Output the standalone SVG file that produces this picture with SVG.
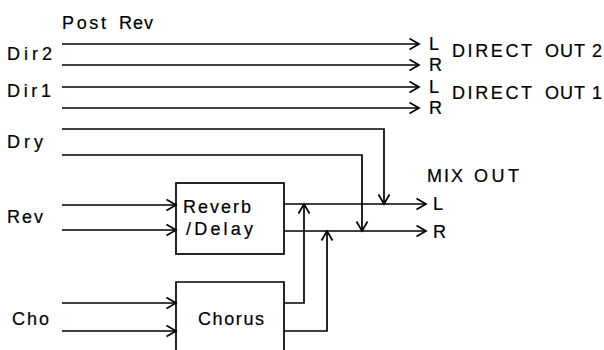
<svg xmlns="http://www.w3.org/2000/svg" width="604" height="350" viewBox="0 0 604 350">
<style>
text{font-family:"Liberation Sans",Arial,sans-serif;font-size:18px;fill:#000;stroke:#000;stroke-width:0.2}
.w{fill:none;stroke:#000;stroke-width:1.7}
.a{marker-end:url(#chev)}
</style>
<defs>
<marker id="chev" markerUnits="userSpaceOnUse" markerWidth="12" markerHeight="14" refX="10.5" refY="6" orient="auto" viewBox="0 0 12 12">
<path d="M1,0.5 L10.5,6 L1,11.5" fill="none" stroke="#000" stroke-width="1.7"/>
</marker>
</defs>
<rect width="604" height="350" fill="#fff"/>

<g id="label-postrev">
<text x="62" y="29" textLength="44" lengthAdjust="spacing">Post</text>
<text x="119" y="29" textLength="34" lengthAdjust="spacing">Rev</text>
</g>
<g id="in-dir2"><text x="7" y="60" textLength="45" lengthAdjust="spacing">Dir2</text></g>
<g id="in-dir1"><text x="7" y="97" textLength="44" lengthAdjust="spacing">Dir1</text></g>
<g id="in-dry"><text x="7" y="148" textLength="36" lengthAdjust="spacing">Dry</text></g>
<g id="in-rev"><text x="7" y="223" textLength="36" lengthAdjust="spacing">Rev</text></g>
<g id="in-cho"><text x="12" y="325" textLength="37" lengthAdjust="spacing">Cho</text></g>

<g id="reverb-delay">
<rect class="w" x="176" y="183" width="108" height="71"/>
<text x="183" y="213" textLength="68" lengthAdjust="spacing">Reverb</text>
<text x="186" y="235" textLength="67" lengthAdjust="spacing">/Delay</text>
</g>
<g id="chorus">
<path class="w" d="M176,360 V282 H284 V360"/>
<text x="198" y="325" textLength="66" lengthAdjust="spacing">Chorus</text>
</g>

<g id="direct-out-2">
<text x="429" y="50">L</text>
<text x="429" y="71">R</text>
<text x="452" y="57" textLength="80" lengthAdjust="spacing">DIRECT</text>
<text x="545" y="57" textLength="40" lengthAdjust="spacing">OUT</text>
<text x="592" y="57">2</text>
</g>
<g id="direct-out-1">
<text x="429" y="93">L</text>
<text x="429" y="114">R</text>
<text x="452" y="99" textLength="80" lengthAdjust="spacing">DIRECT</text>
<text x="545" y="99" textLength="40" lengthAdjust="spacing">OUT</text>
<text x="592" y="99">1</text>
</g>
<g id="mix-out">
<text x="427" y="182" letter-spacing="2">MIX</text>
<text x="474" y="182" textLength="45" lengthAdjust="spacing">OUT</text>
<text x="433" y="210">L</text>
<text x="433" y="238">R</text>
</g>

<g id="connectors">
<path class="w a" d="M62,44 H419"/>
<path class="w a" d="M62,65 H419"/>
<path class="w a" d="M62,87 H419"/>
<path class="w a" d="M62,108 H419"/>
<path class="w a" d="M62,129 H384 V204"/>
<path class="w a" d="M62,155 H362 V231"/>
<path class="w a" d="M62,205 H176"/>
<path class="w a" d="M62,230 H176"/>
<path class="w a" d="M62,303 H176"/>
<path class="w a" d="M62,331 H176"/>
<path class="w a" d="M284,204 H426"/>
<path class="w a" d="M284,231 H426"/>
<path class="w a" d="M284,303 H304 V204"/>
<path class="w a" d="M284,331 H327 V231"/>
</g>
</svg>
